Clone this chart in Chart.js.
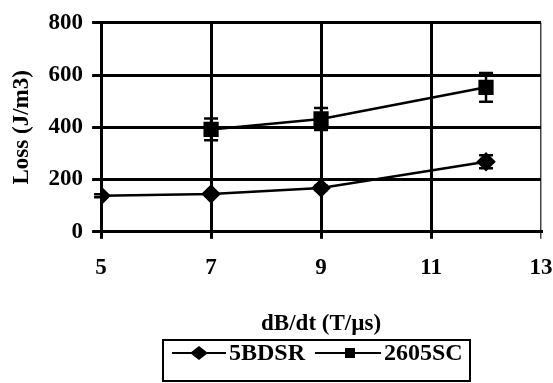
<!DOCTYPE html>
<html>
<head>
<meta charset="utf-8">
<script src="https://cdn.jsdelivr.net/npm/chart.js@4"></script>
<style>
  html, body { margin: 0; padding: 0; background: #fff; }
  #wrap { width: 553px; height: 383px; position: relative; }
</style>
</head>
<body>
<div id="wrap"><canvas id="myChart" width="553" height="383"></canvas></div>
<script>
// data
var seriesNames = ['5BDSR', '2605SC'];
var xBDSR = [5, 7, 9, 12];
var yBDSR = [138, 145, 168, 268];
var errBDSR = [6, 6, 8, 25];
var xSC = [7, 9, 12];
var ySC = [392, 432, 553];
var errSC = [42, 42, 55];
var xTicks = [5, 7, 9, 11, 13];
var yTicks = [0, 200, 400, 600, 800];

var fontFam = '"Liberation Serif", "Times New Roman", serif';

function toPoints(xs, ys) {
    var arr = [];
    for (var i = 0; i < xs.length; i++) {
        arr.push({ x: xs[i], y: ys[i] });
    }
    return arr;
}

// error bars drawn through the chart scales
var errorBars = {
    id: 'errorBars',
    afterDatasetsDraw: function (chart) {
        var ctx = chart.ctx;
        var xs = chart.scales.x, ys = chart.scales.y;
        chart.data.datasets.forEach(function (ds) {
            ctx.save();
            ctx.strokeStyle = '#000';
            ctx.lineWidth = 2.5;
            for (var i = 0; i < ds.data.length; i++) {
                var px = xs.getPixelForValue(ds.data[i].x);
                var top = ys.getPixelForValue(ds.data[i].y + ds.err[i]);
                var bot = ys.getPixelForValue(ds.data[i].y - ds.err[i]);
                ctx.beginPath();
                ctx.moveTo(px, top); ctx.lineTo(px, bot);
                ctx.moveTo(px - 7, top); ctx.lineTo(px + 7, top);
                ctx.moveTo(px - 7, bot); ctx.lineTo(px + 7, bot);
                ctx.stroke();
            }
            ctx.restore();
        });
    }
};

// boxed legend under the x title
var boxLegend = {
    id: 'boxLegend',
    afterDraw: function (chart) {
        var ctx = chart.ctx;
        var left = 163, top = 340, w = 307, h = 41;
        ctx.save();
        ctx.strokeStyle = '#000';
        ctx.lineWidth = 2;
        ctx.strokeRect(left, top, w, h);
        ctx.font = 'bold 24px ' + fontFam;
        ctx.fillStyle = '#000';
        ctx.textBaseline = 'middle';
        var cy = 353;
        var lines = [[172, 226, 199, 229], [315, 381, 350, 384]];
        chart.data.datasets.forEach(function (ds, k) {
            var p = lines[k];
            ctx.beginPath();
            ctx.lineWidth = 2;
            ctx.moveTo(p[0], cy); ctx.lineTo(p[1], cy);
            ctx.stroke();
            var mx = p[2];
            ctx.beginPath();
            if (ds.pointStyle === 'rectRot') {
                ctx.moveTo(mx, cy - 7); ctx.lineTo(mx + 9, cy);
                ctx.lineTo(mx, cy + 7); ctx.lineTo(mx - 9, cy);
                ctx.closePath();
            } else {
                ctx.rect(mx - 5, cy - 5, 10, 10);
            }
            ctx.fill();
            ctx.fillText(ds.label, p[3], cy + 1);
        });
        ctx.restore();
    }
};

var ctx = document.getElementById('myChart').getContext('2d');

window.myChart = new Chart(ctx, {
    type: 'scatter',
    data: {
        datasets: [{
            label: seriesNames[0],
            data: toPoints(xBDSR, yBDSR),
            err: errBDSR,
            showLine: true,
            borderColor: '#000',
            backgroundColor: '#000',
            borderWidth: 2.5,
            pointStyle: 'rectRot',
            pointRadius: 8,
            pointHoverRadius: 8
        }, {
            label: seriesNames[1],
            data: toPoints(xSC, ySC),
            err: errSC,
            showLine: true,
            borderColor: '#000',
            backgroundColor: '#000',
            borderWidth: 2.5,
            pointStyle: 'rect',
            pointRadius: 9,
            pointHoverRadius: 9
        }]
    },
    options: {
        responsive: false,
        animation: false,
        layout: { padding: { top: 1, right: 0, bottom: 45, left: 8 } },
        plugins: {
            legend: { display: false },
            tooltip: { enabled: false }
        },
        scales: {
            x: {
                type: 'linear',
                min: 5,
                max: 13,
                afterBuildTicks: function (axis) {
                    axis.ticks = xTicks.map(function (v) { return { value: v }; });
                },
                afterFit: function (axis) {
                    // only leave room for half of the "13" label on the right
                    axis.paddingRight = 12;
                },
                ticks: {
                    color: '#000',
                    font: { family: fontFam, size: 23, weight: 'bold' },
                    padding: 15
                },
                grid: {
                    color: function (c) { return c.tick && c.tick.value === 13 ? '#444' : '#000'; },
                    lineWidth: function (c) { return c.tick && c.tick.value === 13 ? 1.5 : 3; },
                    tickLength: 7
                },
                border: { color: '#000', width: 3 },
                title: {
                    display: true,
                    text: 'dB/dt (T/µs)',
                    color: '#000',
                    font: { family: fontFam, size: 23, weight: 'bold' },
                    padding: { top: 14, bottom: 0 }
                }
            },
            y: {
                min: 0,
                max: 800,
                afterBuildTicks: function (axis) {
                    axis.ticks = yTicks.map(function (v) { return { value: v }; });
                },
                ticks: {
                    color: '#000',
                    font: { family: fontFam, size: 23, weight: 'bold' },
                    padding: 9
                },
                grid: { color: '#000', lineWidth: 3, tickLength: 9 },
                border: { color: '#000', width: 3 },
                title: {
                    display: true,
                    text: 'Loss (J/m3)',
                    color: '#000',
                    font: { family: fontFam, size: 23, weight: 'bold' },
                    padding: { top: 0, bottom: 4 }
                }
            }
        }
    },
    plugins: [errorBars, boxLegend]
});
</script>
</body>
</html>
